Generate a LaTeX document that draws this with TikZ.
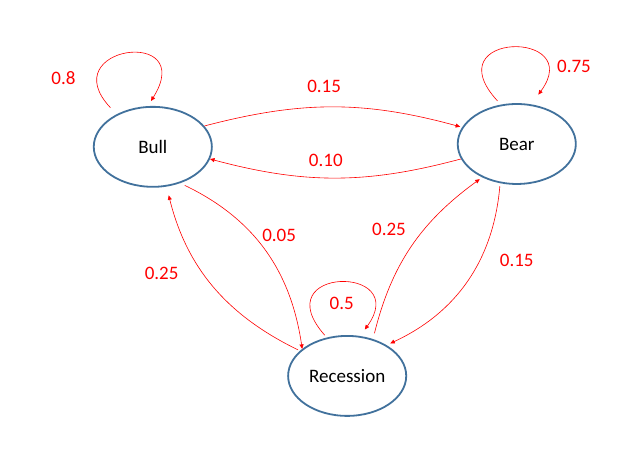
\documentclass[tikz,border=0pt]{standalone}
\usepackage{fontspec}
\setmainfont{Carlito}
\usepackage{xcolor}
\definecolor{stateBlue}{HTML}{41719C}
\definecolor{probRed}{HTML}{FF0000}
\usetikzlibrary{shapes.geometric,arrows.meta}

\tikzset{
  state/.style={ellipse, draw=stateBlue, line width=1.8pt,
    minimum width=4.15cm, minimum height=2.81cm,
    font=\fontsize{19}{23}\selectfont},
  prob/.style={text=probRed, font=\fontsize{19}{23}\selectfont},
  trans/.style={->, draw=probRed, line width=0.6pt},
}

\begin{document}
\begin{tikzpicture}[>={Triangle[length=4.5pt,width=4pt]}]
  \useasboundingbox (0,0) rectangle (22.42,16.13);
  % states
  \node[state] (bull) at (5.37,10.97) {Bull};
  \node[state] (bear) at (18.16,11.07) {Bear};
  \node[state] (rec) at (12.20,2.92) {Recession};
  % self loops
  \draw[trans, shorten <=9pt, shorten >=6pt] (bull.138)
    .. controls +(-2.25,2.39) and +(1.76,2.81) .. (bull.97);
  \draw[trans, shorten <=5pt, shorten >=12pt] (bear.112)
    .. controls +(-2.36,2.57) and +(1.94,2.64) .. (bear.70);
  \draw[trans, shorten <=3pt, shorten >=8pt] (rec.118)
    .. controls +(-2.21,2.50) and +(1.83,2.53) .. (rec.72);
  % transitions between states
  \draw[trans, shorten >=2pt] (bull.22) to[bend left=15] (bear.163);
  \draw[trans] (bear.195) to[bend left=15] (bull.-12);
  \draw[trans, shorten <=5pt] (bull.-53) to[bend left=28] (rec.149);
  \draw[trans, shorten <=2pt, shorten >=9pt] (rec.152) to[bend left=25] (bull.-71);
  \draw[trans, shorten <=6pt, shorten >=3pt] (rec.55) to[bend left=20] (bear.224);
  \draw[trans, shorten <=3pt, shorten >=4pt] (bear.247) to[bend left=30] (rec.38);
  % probabilities
  \node[prob] (pbullbull) at (2.23,13.39) {0.8};
  \node[prob] (pbearbear) at (20.17,13.79) {0.75};
  \node[prob] (precrec) at (12.01,5.48) {0.5};
  \node[prob] (pbullbear) at (11.39,13.11) {0.15};
  \node[prob] (pbearbull) at (11.45,10.51) {0.10};
  \node[prob] (pbullrec) at (9.81,7.87) {0.05};
  \node[prob] (precbull) at (5.68,6.52) {0.25};
  \node[prob] (precbear) at (13.67,8.08) {0.25};
  \node[prob] (pbearrec) at (18.16,6.99) {0.15};
\end{tikzpicture}
\end{document}
